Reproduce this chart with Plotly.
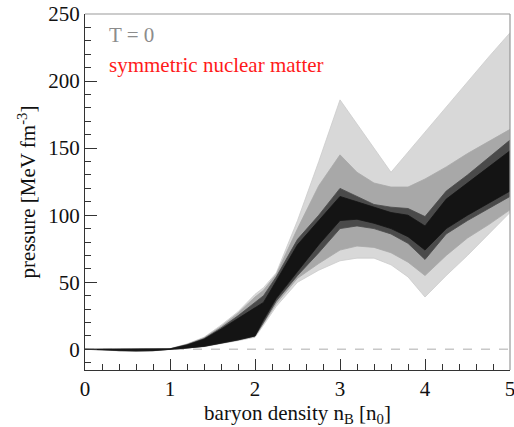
import plotly.graph_objects as go

# density grid (n_B / n_0)
density = [0, 0.2, 0.4, 0.6, 0.8, 1.0, 1.2, 1.4, 1.6, 1.8, 2.0, 2.1, 2.25, 2.5,
           2.75, 3.0, 3.2, 3.4, 3.6, 3.8, 4.0, 4.25, 4.5, 4.75, 5.0]

# envelope of the full ensemble (light gray)
outer_low = [0, -0.3, -1.2, -1.5, -1.2, 0, 1, 2, 4, 6.5, 9, 18, 32, 50,
             59, 66, 68, 68, 63, 54, 39, 55, 70, 86, 102]
outer_high = [0, 0, 0, 0, 0, 0.5, 4, 9, 18, 28, 41, 46, 57, 96,
              140, 186, 168, 150, 132, 147, 162, 180, 199, 218, 236]

# intermediate density region (mid gray)
mid_low = [0, -0.2, -1, -1.2, -1, 0, 1, 2.1, 4.2, 6.8, 9.5, 19, 34, 53,
           64, 74, 77, 76, 72, 65, 55, 70, 83, 93, 104]
mid_high = [0, 0, 0, 0, 0, 0.4, 3.8, 8.6, 17, 27, 39, 44, 56, 90,
            122, 145, 132, 124, 121, 121, 127, 136, 146, 155, 164]

# high density region (dark gray)
core_low = [0, -0.2, -1, -1.2, -1, 0, 1, 2.2, 4.4, 7, 10, 20, 36, 55,
            72, 90, 92, 90, 86, 79, 67, 86, 96, 105, 114]
core_high = [0, 0, 0, 0, 0, 0.4, 3.5, 8, 16, 25, 35, 40, 54, 82,
             100, 120, 114, 108, 106, 105, 99, 118, 130, 143, 156]

# most probable ridge (near black)
ridge_low = [0, -0.2, -0.9, -1.1, -0.9, 0, 1, 2.3, 4.5, 7.1, 10, 22, 38, 58,
             78, 96, 97, 94, 90, 84, 74, 90, 100, 109, 118]
ridge_high = [0, 0, 0, 0, 0, 0.3, 3.2, 7.5, 15, 23, 31, 35, 51, 78,
              96, 114, 110, 106, 102, 100, 92, 112, 124, 136, 148]

layers = [
    (outer_low, outer_high, "#d8d8d8", "#cccccc"),
    (mid_low, mid_high, "#a8a8a8", "#a8a8a8"),
    (core_low, core_high, "#4a4a4a", "#4a4a4a"),
    (ridge_low, ridge_high, "#141414", "#141414"),
]

fig = go.Figure()
for low, high, fillc, linec in layers:
    fig.add_trace(go.Scatter(
        x=density + density[::-1],
        y=high + low[::-1],
        fill="toself",
        fillcolor=fillc,
        line=dict(color=linec, width=0.8),
        mode="lines",
        hoverinfo="skip",
        showlegend=False,
    ))

font_family = "Times New Roman, Liberation Serif, DejaVu Serif, serif"

fig.add_shape(type="line", xref="x", yref="y", x0=0, x1=5, y0=0, y1=0,
              line=dict(color="#c8c8c8", width=1.5, dash="dash"), layer="below")
# gray top and right frame
fig.add_shape(type="line", xref="paper", yref="paper", x0=0, x1=1, y0=1, y1=1,
              line=dict(color="#999999", width=1.2))
fig.add_shape(type="line", xref="paper", yref="paper", x0=1, x1=1, y0=0, y1=1,
              line=dict(color="#999999", width=1.2))

fig.add_annotation(x=0.052, y=0.94, xref="paper", yref="paper", text="T = 0",
                   showarrow=False, xanchor="left", yanchor="middle",
                   font=dict(family=font_family, size=21, color="#8c8c8c"))
fig.add_annotation(x=0.052, y=0.858, xref="paper", yref="paper",
                   text="symmetric nuclear matter",
                   showarrow=False, xanchor="left", yanchor="middle",
                   font=dict(family=font_family, size=21, color="#ff1a1a"))

fig.update_layout(
    width=514, height=427,
    margin=dict(l=85, r=4, t=14, b=57),
    plot_bgcolor="white", paper_bgcolor="white",
    font=dict(family=font_family, size=21, color="#111111"),
    xaxis=dict(
        range=[0, 5], tickvals=[0, 1, 2, 3, 4, 5],
        ticks="inside", ticklen=11, tickwidth=1, tickcolor="#333",
        showline=True, linecolor="#333", linewidth=1.2, mirror=False,
        showgrid=False, zeroline=False, ticklabeloverflow="allow",
        tickfont=dict(family=font_family, size=21),
        minor=dict(ticks="inside", ticklen=6, dtick=0.2, tickcolor="#333"),
        title=dict(text="baryon density n<sub>B</sub> [n<sub>0</sub>]",
                   standoff=2, font=dict(family=font_family, size=21)),
        automargin=False,
    ),
    yaxis=dict(
        range=[-15.4, 250], tickvals=[0, 50, 100, 150, 200, 250],
        ticks="inside", ticklen=12, tickwidth=1, tickcolor="#333",
        showline=True, linecolor="#333", linewidth=1.2, mirror=False,
        showgrid=False, zeroline=False,
        tickfont=dict(family=font_family, size=21),
        minor=dict(ticks="inside", ticklen=6, dtick=10, tickcolor="#333"),
        title=dict(text="pressure [MeV fm<sup>-3</sup>]", standoff=6,
                   font=dict(family=font_family, size=21)),
        automargin=False,
    ),
)

fig.write_html("out.html")
